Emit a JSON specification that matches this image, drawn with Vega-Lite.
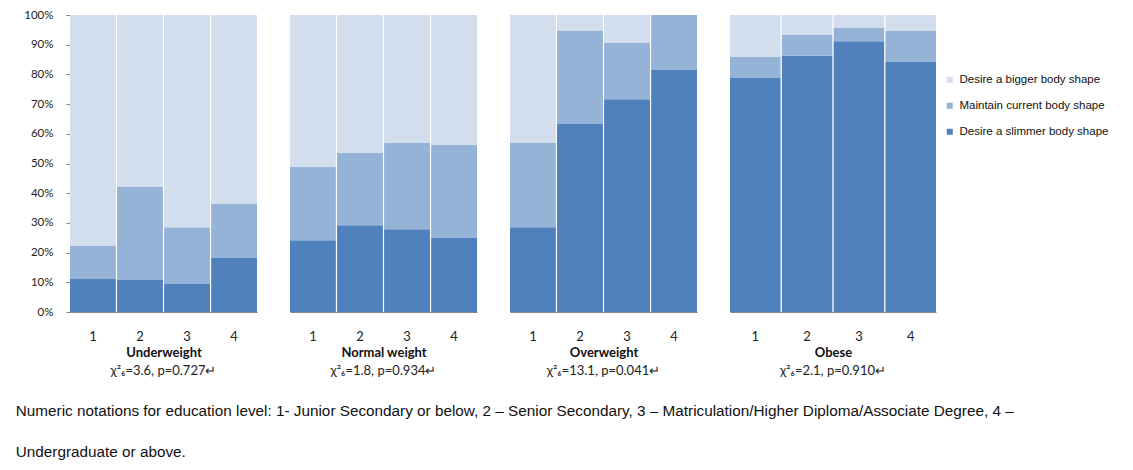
{
  "$schema": "https://vega.github.io/schema/vega-lite/v6.json",
  "description": "100% stacked bars of desired body shape by education level, one panel per weight group.",
  "padding": {"left": 15, "top": 9, "right": 5, "bottom": 5},
  "data": {
    "values": [
      {"group": "Underweight", "edu": "1", "response": "Desire a slimmer body shape", "pct": 11.1},
      {"group": "Underweight", "edu": "1", "response": "Maintain current body shape", "pct": 11.1},
      {"group": "Underweight", "edu": "1", "response": "Desire a bigger body shape", "pct": 77.8},
      {"group": "Underweight", "edu": "2", "response": "Desire a slimmer body shape", "pct": 10.8},
      {"group": "Underweight", "edu": "2", "response": "Maintain current body shape", "pct": 31.3},
      {"group": "Underweight", "edu": "2", "response": "Desire a bigger body shape", "pct": 57.9},
      {"group": "Underweight", "edu": "3", "response": "Desire a slimmer body shape", "pct": 9.4},
      {"group": "Underweight", "edu": "3", "response": "Maintain current body shape", "pct": 19.1},
      {"group": "Underweight", "edu": "3", "response": "Desire a bigger body shape", "pct": 71.5},
      {"group": "Underweight", "edu": "4", "response": "Desire a slimmer body shape", "pct": 18.2},
      {"group": "Underweight", "edu": "4", "response": "Maintain current body shape", "pct": 18.2},
      {"group": "Underweight", "edu": "4", "response": "Desire a bigger body shape", "pct": 63.6},
      {"group": "Normal weight", "edu": "1", "response": "Desire a slimmer body shape", "pct": 24.2},
      {"group": "Normal weight", "edu": "1", "response": "Maintain current body shape", "pct": 24.7},
      {"group": "Normal weight", "edu": "1", "response": "Desire a bigger body shape", "pct": 51.1},
      {"group": "Normal weight", "edu": "2", "response": "Desire a slimmer body shape", "pct": 29.2},
      {"group": "Normal weight", "edu": "2", "response": "Maintain current body shape", "pct": 24.3},
      {"group": "Normal weight", "edu": "2", "response": "Desire a bigger body shape", "pct": 46.5},
      {"group": "Normal weight", "edu": "3", "response": "Desire a slimmer body shape", "pct": 27.9},
      {"group": "Normal weight", "edu": "3", "response": "Maintain current body shape", "pct": 29.0},
      {"group": "Normal weight", "edu": "3", "response": "Desire a bigger body shape", "pct": 43.1},
      {"group": "Normal weight", "edu": "4", "response": "Desire a slimmer body shape", "pct": 24.9},
      {"group": "Normal weight", "edu": "4", "response": "Maintain current body shape", "pct": 31.3},
      {"group": "Normal weight", "edu": "4", "response": "Desire a bigger body shape", "pct": 43.8},
      {"group": "Overweight", "edu": "1", "response": "Desire a slimmer body shape", "pct": 28.5},
      {"group": "Overweight", "edu": "1", "response": "Maintain current body shape", "pct": 28.6},
      {"group": "Overweight", "edu": "1", "response": "Desire a bigger body shape", "pct": 42.9},
      {"group": "Overweight", "edu": "2", "response": "Desire a slimmer body shape", "pct": 63.3},
      {"group": "Overweight", "edu": "2", "response": "Maintain current body shape", "pct": 31.3},
      {"group": "Overweight", "edu": "2", "response": "Desire a bigger body shape", "pct": 5.4},
      {"group": "Overweight", "edu": "3", "response": "Desire a slimmer body shape", "pct": 71.6},
      {"group": "Overweight", "edu": "3", "response": "Maintain current body shape", "pct": 19.1},
      {"group": "Overweight", "edu": "3", "response": "Desire a bigger body shape", "pct": 9.3},
      {"group": "Overweight", "edu": "4", "response": "Desire a slimmer body shape", "pct": 81.5},
      {"group": "Overweight", "edu": "4", "response": "Maintain current body shape", "pct": 18.5},
      {"group": "Overweight", "edu": "4", "response": "Desire a bigger body shape", "pct": 0},
      {"group": "Obese", "edu": "1", "response": "Desire a slimmer body shape", "pct": 78.8},
      {"group": "Obese", "edu": "1", "response": "Maintain current body shape", "pct": 7.1},
      {"group": "Obese", "edu": "1", "response": "Desire a bigger body shape", "pct": 14.1},
      {"group": "Obese", "edu": "2", "response": "Desire a slimmer body shape", "pct": 86.3},
      {"group": "Obese", "edu": "2", "response": "Maintain current body shape", "pct": 7.0},
      {"group": "Obese", "edu": "2", "response": "Desire a bigger body shape", "pct": 6.7},
      {"group": "Obese", "edu": "3", "response": "Desire a slimmer body shape", "pct": 91.2},
      {"group": "Obese", "edu": "3", "response": "Maintain current body shape", "pct": 4.4},
      {"group": "Obese", "edu": "3", "response": "Desire a bigger body shape", "pct": 4.4},
      {"group": "Obese", "edu": "4", "response": "Desire a slimmer body shape", "pct": 84.2},
      {"group": "Obese", "edu": "4", "response": "Maintain current body shape", "pct": 10.4},
      {"group": "Obese", "edu": "4", "response": "Desire a bigger body shape", "pct": 5.4}
    ]
  },
  "transform": [
    {
      "calculate": "indexof(['Desire a slimmer body shape', 'Maintain current body shape', 'Desire a bigger body shape'], datum.response)",
      "as": "stackOrder"
    }
  ],
  "title": {
    "text": [
      "Numeric notations for education level: 1- Junior Secondary or below, 2 – Senior Secondary, 3 – Matriculation/Higher Diploma/Associate Degree, 4 –",
      "Undergraduate or above."
    ],
    "orient": "bottom",
    "anchor": "start",
    "frame": "bounds",
    "dx": -8,
    "offset": 26,
    "lineHeight": 41,
    "font": "Liberation Sans",
    "fontSize": 15.3,
    "fontWeight": "normal",
    "color": "#111"
  },
  "spacing": 33,
  "hconcat": [
    {
      "width": 187,
      "height": 297,
      "transform": [{"filter": "datum.group === 'Underweight'"}],
      "title": {"text": "χ²₆=3.6, p=0.727↵", "orient": "bottom"},
      "mark": {"type": "bar"},
      "encoding": {
        "x": {"field": "edu", "type": "ordinal", "title": "Underweight", "scale": {"paddingInner": 0.025, "paddingOuter": 0}},
        "y": {
          "field": "pct",
          "type": "quantitative",
          "stack": "normalize",
          "scale": {"domain": [0, 1]},
          "axis": {
            "format": ".0%",
            "values": [0, 0.1, 0.2, 0.3, 0.4, 0.5, 0.6, 0.7, 0.8, 0.9, 1],
            "title": null,
            "domain": true,
            "ticks": true,
            "tickSize": 4,
            "labelPadding": 13,
            "grid": false
          }
        },
        "order": {"field": "stackOrder", "type": "quantitative", "sort": "ascending"},
        "color": {
          "field": "response",
          "type": "nominal",
          "scale": {
            "domain": ["Desire a bigger body shape", "Maintain current body shape", "Desire a slimmer body shape"],
            "range": ["#d2ddee", "#95b3d7", "#4f81bd"]
          }
        }
      }
    },
    {
      "width": 187,
      "height": 297,
      "transform": [{"filter": "datum.group === 'Normal weight'"}],
      "title": {"text": "χ²₆=1.8, p=0.934↵", "orient": "bottom"},
      "mark": {"type": "bar"},
      "encoding": {
        "x": {"field": "edu", "type": "ordinal", "title": "Normal weight", "scale": {"paddingInner": 0.025, "paddingOuter": 0}},
        "y": {"field": "pct", "type": "quantitative", "stack": "normalize", "scale": {"domain": [0, 1]}, "axis": null},
        "order": {"field": "stackOrder", "type": "quantitative", "sort": "ascending"},
        "color": {"field": "response", "type": "nominal"}
      }
    },
    {
      "width": 187,
      "height": 297,
      "transform": [{"filter": "datum.group === 'Overweight'"}],
      "title": {"text": "χ²₆=13.1, p=0.041↵", "orient": "bottom"},
      "mark": {"type": "bar"},
      "encoding": {
        "x": {"field": "edu", "type": "ordinal", "title": "Overweight", "scale": {"paddingInner": 0.025, "paddingOuter": 0}},
        "y": {"field": "pct", "type": "quantitative", "stack": "normalize", "scale": {"domain": [0, 1]}, "axis": null},
        "order": {"field": "stackOrder", "type": "quantitative", "sort": "ascending"},
        "color": {"field": "response", "type": "nominal"}
      }
    },
    {
      "width": 206,
      "height": 297,
      "transform": [{"filter": "datum.group === 'Obese'"}],
      "title": {"text": "χ²₆=2.1, p=0.910↵", "orient": "bottom"},
      "mark": {"type": "bar"},
      "encoding": {
        "x": {"field": "edu", "type": "ordinal", "title": "Obese", "scale": {"paddingInner": 0.025, "paddingOuter": 0}},
        "y": {"field": "pct", "type": "quantitative", "stack": "normalize", "scale": {"domain": [0, 1]}, "axis": null},
        "order": {"field": "stackOrder", "type": "quantitative", "sort": "ascending"},
        "color": {"field": "response", "type": "nominal"}
      }
    }
  ],
  "resolve": {
    "scale": {"x": "independent", "y": "independent", "color": "shared"},
    "legend": {"color": "shared"}
  },
  "config": {
    "view": {"stroke": null},
    "axis": {
      "labelFont": "Lato",
      "labelColor": "#222",
      "domainColor": "#868686",
      "tickColor": "#868686",
      "titleFont": "Lato",
      "titleColor": "#111"
    },
    "axisY": {"labelFontSize": 11.5},
    "axisX": {
      "labelAngle": 0,
      "labelFontSize": 13,
      "labelPadding": 18,
      "ticks": false,
      "tickSize": 0,
      "titleFontSize": 13,
      "titleFontWeight": "bold",
      "titlePadding": 3
    },
    "title": {
      "font": "Lato",
      "fontSize": 13,
      "fontWeight": "normal",
      "color": "#222",
      "offset": 6
    },
    "legend": {
      "orient": "none",
      "legendX": 874,
      "legendY": 59,
      "title": null,
      "symbolType": "square",
      "symbolSize": 36,
      "symbolStrokeWidth": 0,
      "labelFont": "Liberation Sans",
      "labelFontSize": 11.5,
      "labelColor": "#111",
      "labelOffset": 4,
      "labelLimit": 0,
      "rowPadding": 13
    }
  }
}
